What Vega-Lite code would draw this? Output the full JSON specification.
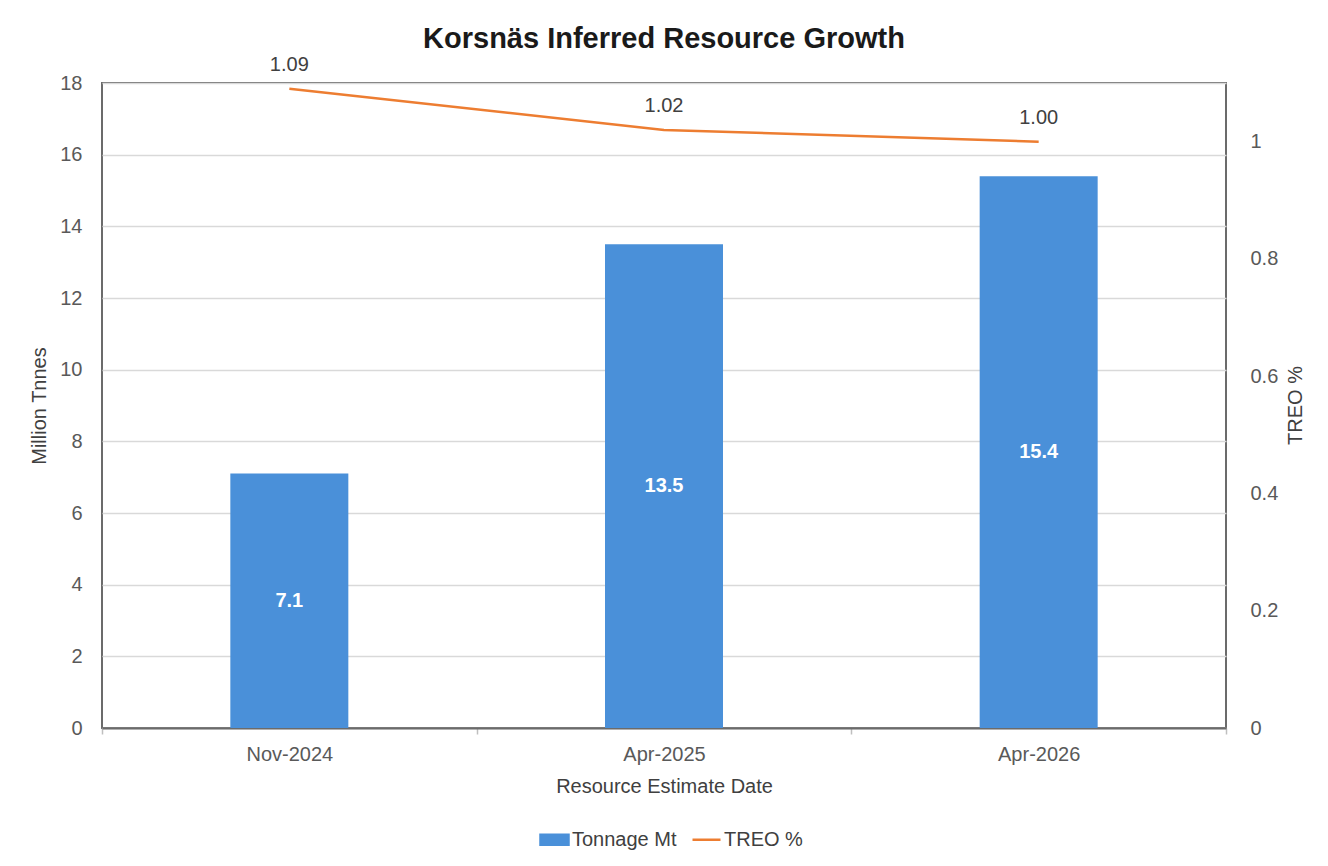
{
  "$schema": "https://vega.github.io/schema/vega-lite/v6.json",
  "autosize": "none",
  "width": 1124,
  "height": 645,
  "padding": {"top": 83, "left": 102, "right": 102, "bottom": 138},
  "background": "white",
  "title": {
    "text": "Korsnäs Inferred Resource Growth",
    "fontSize": 29,
    "fontWeight": "bold",
    "font": "Liberation Sans",
    "color": "#1a1a1a",
    "anchor": "middle",
    "baseline": "alphabetic",
    "offset": -22
  },
  "config": {
    "font": "Liberation Sans",
    "view": {"stroke": "#6b6b6b", "strokeWidth": 2}
  },
  "data": {
    "values": [
      {"date": "Nov-2024", "tonnage": 7.1, "treo": 1.09},
      {"date": "Apr-2025", "tonnage": 13.5, "treo": 1.02},
      {"date": "Apr-2026", "tonnage": 15.4, "treo": 1.0}
    ]
  },
  "encoding": {
    "x": {
      "field": "date",
      "type": "nominal",
      "sort": null,
      "scale": {"paddingInner": 0, "paddingOuter": 0},
      "axis": {
        "title": "Resource Estimate Date",
        "labelAngle": 0,
        "labelFontSize": 20,
        "labelColor": "#595959",
        "labelPadding": 10,
        "tickBand": "extent",
        "ticks": true,
        "tickSize": 6,
        "tickColor": "#bfbfbf",
        "tickWidth": 1.5,
        "domainColor": "#6b6b6b",
        "domainWidth": 2,
        "titleFontSize": 20,
        "titleFontWeight": "normal",
        "titleColor": "#404040",
        "titlePadding": 12
      }
    }
  },
  "layer": [
    {
      "mark": {"type": "bar", "size": 118},
      "encoding": {
        "y": {
          "field": "tonnage",
          "type": "quantitative",
          "scale": {"domain": [0, 18], "nice": false},
          "axis": {
            "orient": "left",
            "title": "Million Tnnes",
            "values": [0, 2, 4, 6, 8, 10, 12, 14, 16, 18],
            "grid": true,
            "gridColor": "#d9d9d9",
            "gridWidth": 1.5,
            "ticks": false,
            "domain": false,
            "labelFontSize": 20,
            "labelColor": "#595959",
            "labelPadding": 20,
            "titleFontSize": 20,
            "titleFontWeight": "normal",
            "titleColor": "#404040",
            "titlePadding": 10
          }
        },
        "color": {
          "datum": "Tonnage Mt",
          "type": "nominal",
          "scale": {"domain": ["Tonnage Mt", "TREO %"], "range": ["#4A90D9", "#ED7D31"]},
          "legend": {
            "orient": "none",
            "legendX": 441,
            "legendY": 745,
            "direction": "horizontal",
            "title": null,
            "labelFontSize": 20,
            "labelColor": "#404040",
            "symbolSize": 400,
            "labelOffset": 6,
            "columnPadding": 10,
            "encode": {
              "symbols": {
                "update": {
                  "shape": {"signal": "datum.value === 'TREO %' ? 'M-1.4,0H1.4' : 'M-1.4,-0.5H1.4V0.5H-1.4Z'"},
                  "fill": {"signal": "datum.value === 'TREO %' ? 'transparent' : scale('color', datum.value)"},
                  "stroke": {"signal": "datum.value === 'TREO %' ? scale('color', datum.value) : 'transparent'"},
                  "strokeWidth": {"value": 2.5},
                  "opacity": {"value": 1},
                  "size": {"value": 400}
                }
              }
            }
          }
        }
      }
    },
    {
      "mark": {"type": "text", "color": "white", "fontSize": 20, "fontWeight": "bold", "baseline": "middle"},
      "encoding": {
        "y": {
          "field": "tonnage",
          "type": "quantitative",
          "scale": {"domain": [0, 36], "nice": false},
          "axis": null
        },
        "text": {"field": "tonnage", "type": "quantitative", "format": ".1f"}
      }
    },
    {
      "mark": {"type": "line", "strokeWidth": 2.5},
      "encoding": {
        "y": {
          "field": "treo",
          "type": "quantitative",
          "scale": {"domain": [0, 1.1], "nice": false},
          "axis": {
            "orient": "right",
            "title": "TREO %",
            "titleAngle": 270,
            "titleX": 69,
            "titleY": 322,
            "titleAlign": "center",
            "titleBaseline": "middle",
            "values": [0, 0.2, 0.4, 0.6, 0.8, 1],
            "format": ".1~f",
            "grid": false,
            "ticks": false,
            "domain": false,
            "labelFontSize": 20,
            "labelColor": "#595959",
            "labelPadding": 24,
            "titleFontSize": 20,
            "titleFontWeight": "normal",
            "titleColor": "#404040"
          }
        },
        "color": {"datum": "TREO %", "type": "nominal"}
      }
    },
    {
      "mark": {"type": "text", "color": "#404040", "fontSize": 20, "baseline": "middle", "dy": -24},
      "encoding": {
        "y": {
          "field": "treo",
          "type": "quantitative",
          "scale": {"domain": [0, 1.1], "nice": false},
          "axis": null
        },
        "text": {"field": "treo", "type": "quantitative", "format": ".2f"}
      }
    }
  ],
  "resolve": {"scale": {"y": "independent"}}
}
